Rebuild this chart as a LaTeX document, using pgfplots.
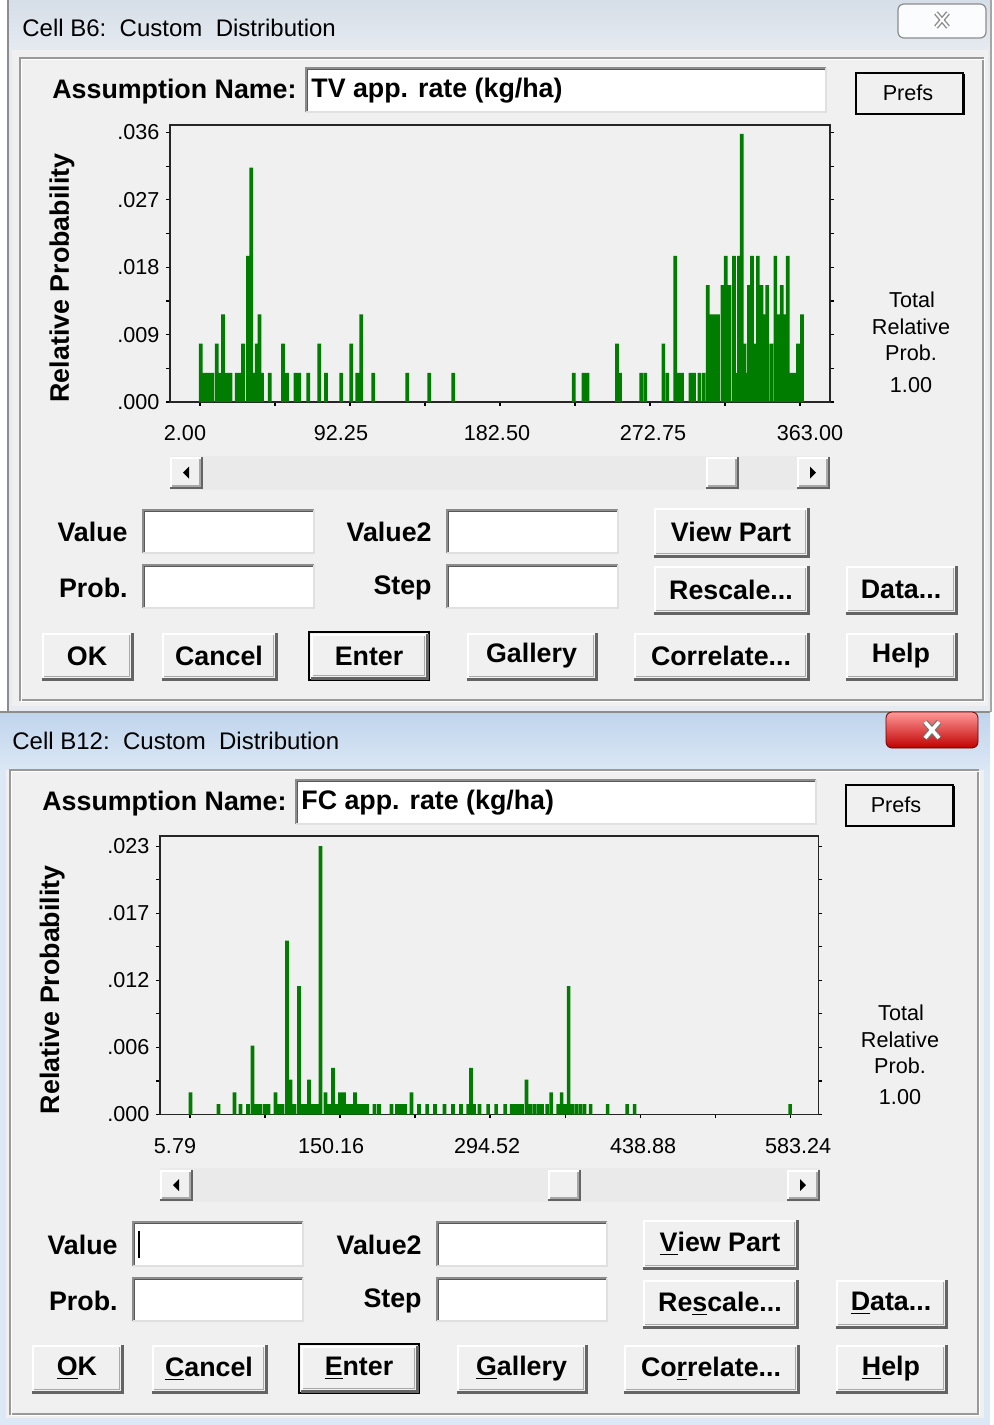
\documentclass[border=0pt]{standalone}
\usepackage{pgfplots}
\pgfplotsset{compat=1.18}
\usepackage{fontspec}
\setmainfont{Liberation Sans}
\definecolor{winbg}{HTML}{F0F0F0}
\definecolor{bargreen}{RGB}{0,125,0}
\definecolor{btnshadow}{HTML}{646464}
\definecolor{btnmid}{HTML}{A8A8A8}
\definecolor{edge}{HTML}{8C8C8C}
\definecolor{titleA}{HTML}{D6DEE7}
\definecolor{titleB}{HTML}{E6EBF1}
\definecolor{titleC}{HTML}{BFD4EC}
\definecolor{titleD}{HTML}{DCE8F5}
\definecolor{track}{HTML}{EAEAEA}
\newcommand{\tfont}{\fontsize{12}{14}\selectfont}
\newcommand{\lfont}{\fontsize{13.4}{16}\selectfont\bfseries}
\newcommand{\sfont}{\fontsize{10.8}{13}\selectfont}
% button: x1 y1 x2 y2 text
\newcommand{\btn}[5]{%
  \fill[winbg] (#1,#2) rectangle (#3,#4);
  \draw[white,line width=1pt] ({#1+1},{#4-1}) -- ({#1+1},{#2+1}) -- ({#3-1},{#2+1});
  \draw[btnshadow,line width=1.5pt] (#1,#4) -- (#3,#4) -- (#3,#2);
  \draw[btnmid,line width=0.8pt] ({#1+2},{#4-2.5}) -- ({#3-2.5},{#4-2.5}) -- ({#3-2.5},{#2+2});
  \node[font=\lfont,inner sep=0pt] at ({(#1+#3)/2},{(#2+#4)/2}) {#5};}
\newcommand{\tbox}[4]{%
  \fill[white] (#1,#2) rectangle (#3,#4);
  \draw[edge,line width=1pt] (#1,#4) -- (#1,#2) -- (#3,#2);
  \draw[black!65,line width=0.6pt] ({#1+1.5},{#4-1}) -- ({#1+1.5},{#2+1.5}) -- ({#3-1},{#2+1.5});
  \draw[black!12,line width=0.8pt] (#1,#4) -- (#3,#4) -- (#3,#2);}
\newcommand{\btnface}[4]{%
  \fill[winbg] (#1,#2) rectangle (#3,#4);
  \draw[white,line width=1pt] ({#1+1},{#4-1}) -- ({#1+1},{#2+1}) -- ({#3-1},{#2+1});
  \draw[btnshadow,line width=1.2pt] (#1,#4) -- (#3,#4) -- (#3,#2);
  \draw[btnmid,line width=0.7pt] ({#1+2},{#4-2}) -- ({#3-2},{#4-2}) -- ({#3-2},{#2+2});}
% small scroll button with triangle: x1 y1 x2 y2 dir(+1 right,-1 left)
\newcommand{\sbtn}[5]{%
  \btnface{#1}{#2}{#3}{#4}%
  \fill[black] ({(#1+#3)/2+#5*3},{(#2+#4)/2}) -- ({(#1+#3)/2-#5*3},{(#2+#4)/2-6}) -- ({(#1+#3)/2-#5*3},{(#2+#4)/2+6}) -- cycle;}
\pgfplotsset{dlgaxis/.style={
  scale only axis, anchor=south west, clip=false,
  scaled y ticks=false, scaled x ticks=false,
  tick align=outside, xtick pos=bottom, ytick pos=both, yticklabel pos=left,
  major tick length=1.8pt, minor tick length=1.8pt,
  every tick/.style={black, line width=0.6pt},
  axis line style={black!85, line width=0.9pt},
  yticklabel style={font=\sfont},
  xticklabel style={font=\sfont, yshift=-6.5pt},
  ylabel style={font=\lfont, at={(axis description cs:-0.1636,0.4477)}, anchor=center},
  ylabel={Relative Probability}}}
\begin{document}
\begin{tikzpicture}
\begin{scope}[x=0.5pt,y=-0.5pt]
\useasboundingbox (0,0) rectangle (993,1425);
\fill[white] (0,0) rectangle (993,1425);
% ---------- top window ----------
\shade[top color=titleA, bottom color=titleB] (8,0) rectangle (991,52);
\fill[titleB] (8,52) rectangle (991,712);
\fill[winbg] (12,50) rectangle (988,706);
\draw[black!45,line width=0.8pt] (8,0) -- (8,712);
\draw[black!35,line width=0.8pt] (991,0) -- (991,712);
\node[font=\tfont,anchor=west,inner sep=0pt] at (22,28) {Cell B6:\ \ Custom\ \ Distribution};
\draw[rounded corners=3pt, black!45, fill=white!90!titleA, line width=0.6pt] (898,4) rectangle (986,38);
\draw[line width=2.4pt, black!45] (936,13) -- (948,27) (948,13) -- (936,27);
\draw[line width=1pt, white] (936,13) -- (948,27) (948,13) -- (936,27);
\draw[black!40,line width=0.6pt] (20,58) rectangle (983,700);
\draw[white,line width=0.6pt] (21.5,59.5) rectangle (984.5,701.5);
\node[font=\lfont,anchor=east,inner sep=0pt] at (297,92) {Assumption Name:};
\tbox{306}{68}{826}{112}
\node[font=\lfont,anchor=west,inner sep=0pt] at (311,91) {TV app. rate (kg/ha)};
\fill[winbg] (856,73) rectangle (963,114);
\draw[black,line width=0.7pt] (856,73) rectangle (963,114);
\draw[black,line width=1.4pt] (857,114) -- (964,114) -- (964,74);
\node[font=\sfont,inner sep=0pt] at (908,93) {Prefs};
\node[font=\sfont,inner sep=0pt] at (912,300) {Total};
\node[font=\sfont,inner sep=0pt] at (911,327) {Relative};
\node[font=\sfont,inner sep=0pt] at (911,353) {Prob.};
\node[font=\sfont,inner sep=0pt] at (911,385) {1.00};
\fill[track] (170,456) rectangle (830,490);
\sbtn{170}{457}{202}{488}{-1}
\btnface{706}{457}{738}{488}
\sbtn{797}{457}{829}{488}{1}
\node[font=\lfont,anchor=east,inner sep=0pt] at (128,532) {Value};
\tbox{143}{510}{314}{553}
\node[font=\lfont,anchor=east,inner sep=0pt] at (432,532) {Value2};
\tbox{447}{510}{618}{553}
\btn{654}{508}{808}{556}{View Part}
\node[font=\lfont,anchor=east,inner sep=0pt] at (128,588) {Prob.};
\tbox{143}{565}{314}{608}
\node[font=\lfont,anchor=east,inner sep=0pt] at (432,588) {Step};
\tbox{447}{565}{618}{608}
\btn{654}{566}{808}{613}{Rescale...}
\btn{846}{566}{956}{613}{Data...}
\btn{42}{633}{132}{679}{OK}
\btn{162}{633}{276}{679}{Cancel}
\draw[black,line width=0.8pt] (309,632) rectangle (429,680);
\btn{311}{634}{427}{678}{Enter}
\btn{467}{633}{596}{679}{Gallery}
\btn{634}{633}{808}{679}{Correlate...}
\btn{846}{633}{956}{679}{Help}
% ---------- bottom window ----------
\shade[top color=titleC, bottom color=titleD] (0,712) rectangle (990,772);
\fill[titleD] (0,772) rectangle (990,1425);
\fill[winbg] (6,770) rectangle (984,1418);
\draw[black!45,line width=0.8pt] (0,712) -- (990,712);
\node[font=\tfont,anchor=west,inner sep=0pt] at (12,741) {Cell B12:\ \ Custom\ \ Distribution};
\shade[rounded corners=3pt, top color=red!40!white, bottom color=red!75!black, draw=red!40!black] (886,712) rectangle (978,748);
\draw[line width=3pt, black!55] (925,722) -- (939,738) (939,722) -- (925,738);
\draw[line width=1.8pt, white] (925,722) -- (939,738) (939,722) -- (925,738);
\draw[black!40,line width=0.6pt] (10,770) rectangle (978,1414);
\draw[white,line width=0.6pt] (11.5,771.5) rectangle (979.5,1415.5);
\node[font=\lfont,anchor=east,inner sep=0pt] at (287,804) {Assumption Name:};
\tbox{296}{780}{816}{824}
\node[font=\lfont,anchor=west,inner sep=0pt] at (301,803) {FC app. rate (kg/ha)};
\fill[winbg] (846,785) rectangle (953,826);
\draw[black,line width=0.7pt] (846,785) rectangle (953,826);
\draw[black,line width=1.4pt] (847,826) -- (954,826) -- (954,786);
\node[font=\sfont,inner sep=0pt] at (896,805) {Prefs};
\node[font=\sfont,inner sep=0pt] at (901,1013) {Total};
\node[font=\sfont,inner sep=0pt] at (900,1040) {Relative};
\node[font=\sfont,inner sep=0pt] at (900,1066) {Prob.};
\node[font=\sfont,inner sep=0pt] at (900,1097) {1.00};
\fill[track] (160,1168) rectangle (820,1202);
\sbtn{160}{1170}{192}{1200}{-1}
\btnface{548}{1170}{580}{1200}
\sbtn{787}{1170}{819}{1200}{1}
\node[font=\lfont,anchor=east,inner sep=0pt] at (118,1245) {Value};
\tbox{133}{1222}{303}{1266}
\draw[black,line width=0.6pt] (139,1231) -- (139,1258);
\node[font=\lfont,anchor=east,inner sep=0pt] at (422,1245) {Value2};
\tbox{437}{1222}{607}{1266}
\btn{643}{1220}{797}{1268}{\underline{V}iew Part}
\node[font=\lfont,anchor=east,inner sep=0pt] at (118,1301) {Prob.};
\tbox{133}{1278}{303}{1321}
\node[font=\lfont,anchor=east,inner sep=0pt] at (422,1301) {Step};
\tbox{437}{1278}{607}{1321}
\btn{643}{1280}{797}{1327}{Re\underline{s}cale...}
\btn{836}{1280}{946}{1327}{\underline{D}ata...}
\btn{32}{1345}{122}{1392}{\underline{O}K}
\btn{152}{1345}{266}{1392}{\underline{C}ancel}
\draw[black,line width=0.8pt] (299,1344) rectangle (419,1393);
\btn{301}{1346}{417}{1391}{\underline{E}nter}
\btn{457}{1345}{586}{1392}{\underline{G}allery}
\btn{624}{1345}{798}{1392}{Co\underline{r}relate...}
\btn{836}{1345}{946}{1392}{\underline{H}elp}
\end{scope}
% ---------- top chart ----------
\begin{axis}[dlgaxis, at={(85pt,-201pt)}, width=330pt, height=138.5pt,
  xmin=-16.05, xmax=381.05, ymin=0, ymax=0.03699,
  xtick={2,92.25,182.5,272.75,363},
  xticklabels={\makebox[0pt]{\hspace*{-15pt}2.00},\makebox[0pt]{\hspace*{-9pt}92.25},\makebox[0pt]{\hspace*{-3pt}182.50},\makebox[0pt]{\hspace*{3pt}272.75},\makebox[0pt]{\hspace*{10pt}363.00}},
  minor xtick={47.125,137.375,227.625,317.875},
  ytick={0,0.009,0.018,0.027,0.036},
  yticklabels={.000,.009,.018,.027,.036},
  minor ytick={0.0045,0.0135,0.0225,0.0315}]
\addplot[ybar, bar width=2.2, bar shift=0pt, fill=bargreen, draw=none] table {
x y
2.42 0.0078
4.59 0.0039
6.99 0.0039
9.40 0.0039
12.05 0.0078
14.03 0.0039
15.84 0.0117
18.25 0.0039
20.35 0.0039
24.08 0.0039
26.07 0.0039
27.87 0.0078
30.88 0.0195
32.87 0.0313
34.49 0.0039
36.12 0.0078
37.80 0.0117
39.31 0.0039
44.00 0.0039
51.94 0.0078
54.35 0.0039
59.46 0.0039
61.75 0.0039
67.17 0.0039
73.78 0.0078
77.81 0.0039
87.02 0.0039
93.04 0.0078
96.65 0.0039
99.06 0.0117
106.28 0.0039
126.73 0.0039
139.97 0.0039
154.41 0.0039
226.85 0.0039
232.76 0.0039
235.17 0.0039
252.90 0.0078
254.70 0.0039
267.53 0.0039
269.94 0.0039
280.80 0.0078
283.20 0.0039
287.98 0.0195
290.22 0.0039
292.03 0.0039
297.14 0.0039
299.24 0.0039
302.43 0.0039
305.00 0.0039
307.48 0.0156
309.46 0.0117
311.57 0.0117
313.67 0.0117
316.27 0.0156
318.31 0.0195
320.60 0.0156
323.31 0.0195
324.93 0.0039
326.20 0.0195
327.94 0.0358
329.63 0.0078
331.13 0.0039
332.21 0.0156
334.14 0.0195
335.65 0.0078
337.63 0.0195
339.86 0.0156
341.55 0.0117
343.24 0.0156
345.68 0.0078
348.16 0.0195
350.21 0.0117
352.01 0.0156
353.82 0.0117
355.62 0.0195
357.60 0.0039
359.71 0.0039
361.82 0.0078
364.22 0.0117
};
\end{axis}
% ---------- bottom chart ----------
\begin{axis}[dlgaxis, at={(80pt,-557.25pt)}, width=329.25pt, height=139.25pt,
  xmin=-23.08, xmax=610.5, ymin=0, ymax=0.02387,
  xtick={5.79,150.16,294.52,438.88,583.24},
  xticklabels={\makebox[0pt]{\hspace*{-15pt}5.79},\makebox[0pt]{\hspace*{-9pt}150.16},\makebox[0pt]{\hspace*{-3pt}294.52},\makebox[0pt]{\hspace*{3pt}438.88},\makebox[0pt]{\hspace*{8pt}583.24}},
  minor xtick={77.975,222.34,366.70,511.06},
  ytick={0,0.00575,0.0115,0.01725,0.023},
  yticklabels={.000,.006,.012,.017,.023},
  minor ytick={0.002875,0.008625,0.014375,0.020125}]
\addplot[ybar, bar width=3.4, bar shift=0pt, fill=bargreen, draw=none] table {
x y
6.27 0.0019
33.21 0.00088
48.61 0.0019
54.38 0.00088
61.60 0.00088
65.93 0.0059
69.77 0.00088
73.14 0.00088
77.47 0.00088
81.32 0.00088
88.06 0.0019
90.94 0.00088
94.79 0.00088
99.12 0.0149
102.49 0.0030
106.34 0.00088
110.67 0.0110
114.52 0.00088
117.40 0.00088
120.29 0.0030
124.14 0.00088
127.51 0.00088
131.35 0.0230
136.17 0.0019
140.01 0.00088
143.38 0.0040
146.75 0.00088
150.12 0.0019
153.97 0.0019
157.81 0.00088
161.18 0.00088
164.55 0.0019
168.40 0.00088
172.25 0.00088
176.10 0.00088
183.31 0.00088
187.64 0.00088
199.67 0.00088
204.96 0.00088
208.81 0.00088
212.66 0.00088
218.91 0.0019
226.13 0.00088
233.83 0.00088
241.52 0.00088
250.66 0.00088
258.84 0.00088
266.54 0.00088
273.28 0.00088
276.16 0.0040
279.05 0.00088
284.34 0.00088
292.52 0.00088
300.22 0.00088
308.88 0.00088
315.13 0.00088
318.50 0.00088
321.87 0.00088
325.23 0.00088
329.56 0.0030
333.41 0.00088
337.26 0.00088
341.11 0.00088
344.48 0.00088
349.29 0.00088
353.14 0.0019
359.87 0.00088
363.24 0.0019
366.61 0.00088
370.17 0.0110
373.82 0.00088
377.67 0.00088
381.52 0.00088
385.37 0.00088
391.14 0.00088
407.50 0.00088
426.26 0.00088
433.48 0.00088
583.24 0.00088
};
\end{axis}
\end{tikzpicture}
\end{document}
